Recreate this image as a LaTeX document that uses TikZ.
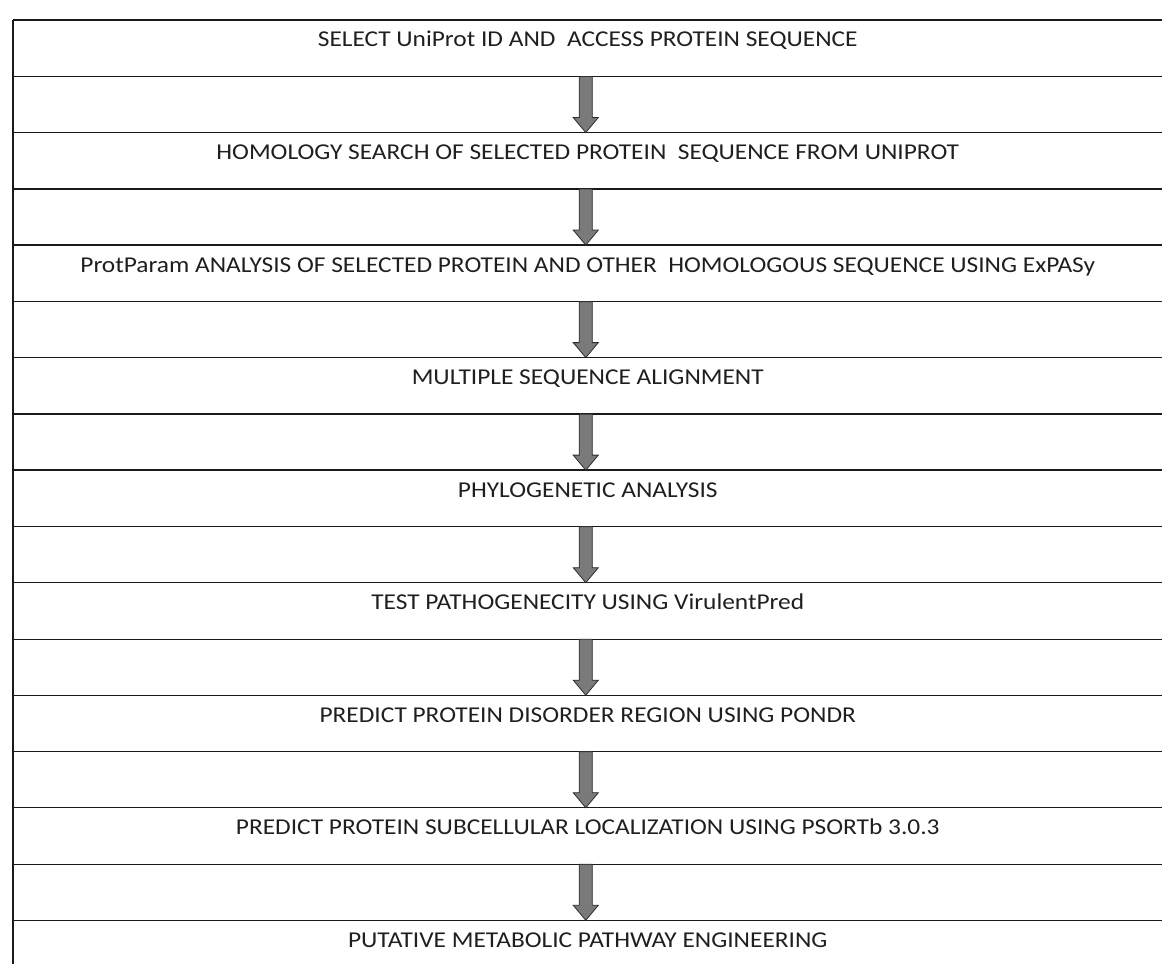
\documentclass[tikz,border=0pt]{standalone}
\usepackage{fontspec}
\setmainfont{Carlito}[FakeStretch=1.12]
\usetikzlibrary{positioning}
\definecolor{linecol}{HTML}{1A1A1A}
\definecolor{textcol}{HTML}{1F1F1F}
\definecolor{arrowfill}{HTML}{7A7A7A}
\definecolor{arrowedge}{HTML}{2E2E2E}
\tikzset{
  steprow/.style={rectangle, anchor=north west, inner sep=0pt,
    minimum width=861.75pt, minimum height=42pt,
    text height=20pt, text depth=22pt,
    font=\fontsize{17}{20}\selectfont, text=textcol},
  rowline/.style={draw=linecol, line width=1pt},
  flowarrow/.style={draw=arrowedge, fill=arrowfill, line width=0.6pt, line join=miter}
}
\begin{document}
\begin{tikzpicture}
    \useasboundingbox (0,0) rectangle (871.5pt,-723pt);

    % Text Node
    \node [steprow] (s1) at (9.75pt,-15pt) {SELECT UniProt ID AND\ \ ACCESS PROTEIN SEQUENCE};
    % Text Node
    \node [steprow, below=42pt of s1] (s2) {HOMOLOGY SEARCH OF SELECTED PROTEIN\ \ SEQUENCE FROM UNIPROT};
    % Text Node
    \node [steprow, below=42pt of s2] (s3) {ProtParam ANALYSIS OF SELECTED PROTEIN AND OTHER\ \ HOMOLOGOUS SEQUENCE USING ExPASy};
    % Text Node
    \node [steprow, below=42pt of s3] (s4) {MULTIPLE SEQUENCE ALIGNMENT};
    % Text Node
    \node [steprow, below=42pt of s4] (s5) {PHYLOGENETIC ANALYSIS};
    % Text Node
    \node [steprow, below=42pt of s5] (s6) {TEST PATHOGENECITY USING VirulentPred};
    % Text Node
    \node [steprow, below=42pt of s6] (s7) {PREDICT PROTEIN DISORDER REGION USING PONDR};
    % Text Node
    \node [steprow, below=42pt of s7] (s8) {PREDICT PROTEIN SUBCELLULAR LOCALIZATION USING PSORTb 3.0.3};
    % Text Node
    \node [steprow, below=42pt of s8] (s9) {PUTATIVE METABOLIC PATHWAY ENGINEERING};
    \coordinate (bot) at (9.75pt,-723pt);

    %Straight Lines
    \foreach \s in {s1,s2,s3,s4,s5,s6,s7,s8}
        \draw [rowline] (\s.north west) -- (\s.north east) (\s.south west) -- (\s.south east);
    \draw [rowline] (s9.north west) -- (s9.north east);
    \draw [rowline] (s1.north west) -- (bot);

    %Block Arrows
    \foreach \a/\b in {s1/s2,s2/s3,s3/s4,s4/s5,s5/s6,s6/s7,s7/s8,s8/s9}
        \draw [flowarrow] ([xshift=-6.4pt]\a.south) -- ([shift={(-6.4pt,11.25pt)}]\b.north)
            -- ([shift={(-10.9pt,11.25pt)}]\b.north) -- ([xshift=-1.5pt]\b.north)
            -- ([shift={(7.9pt,11.25pt)}]\b.north) -- ([shift={(3.4pt,11.25pt)}]\b.north)
            -- ([xshift=3.4pt]\a.south) -- cycle;

\end{tikzpicture}
\end{document}
